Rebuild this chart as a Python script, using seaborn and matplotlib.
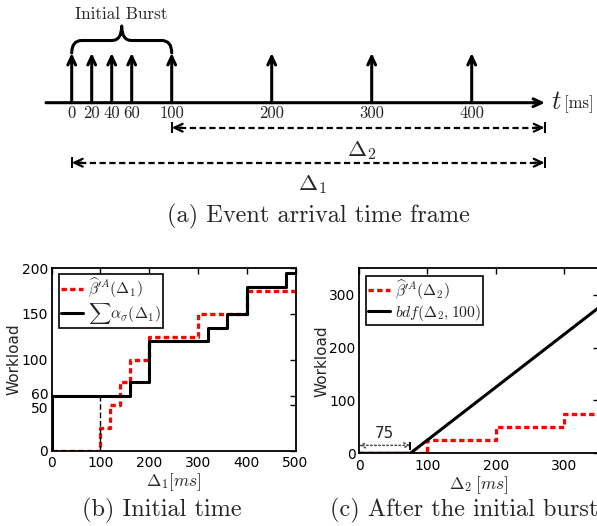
import matplotlib
matplotlib.use("Agg")
import matplotlib.pyplot as plt
import matplotlib.transforms as mtransforms
from matplotlib.path import Path
from matplotlib.patches import PathPatch
import seaborn as sns

# ---------------- data ----------------
event_times = [0, 20, 40, 60, 100, 200, 300, 400]
event_labels = ["0", "20", "40", "60", "100", "200", "300", "400"]
burst_start, burst_end = 0, 100
delta2_start = 100
delta1_start = 0
horizon_end = 473          # ms, end of the Δ ranges

beta1_x = [0, 100, 120, 140, 160, 200, 300, 400, 500]
beta1_y = [0, 25, 50, 75, 100, 125, 150, 175, 175]
alpha_x = [0, 0, 160, 200, 320, 360, 400, 480, 500]
alpha_y = [0, 60, 75, 120, 135, 150, 180, 195, 195]
b_xticks = [0, 100, 200, 300, 400, 500]
b_yticks = [0, 50, 60, 100, 150, 200]

beta2_x = [0, 100, 200, 300, 400, 500]
beta2_y = [0, 25, 50, 75, 100, 100]
bdf_x = [0, 75, 500]
bdf_y = [0, 0, 425]
c_xticks = [0, 100, 200, 300, 400, 500]
c_yticks = [0, 100, 200, 300]
offset_75 = 75

# ---------------- style ----------------
sns.set_style("white")
plt.rcParams["font.family"] = ["DejaVu Sans"]
plt.rcParams["mathtext.fontset"] = "cm"

W, H = 597, 526
fig = plt.figure(figsize=(W / 100, H / 100), dpi=100)

def fx(px):
    return px / W

def fy(py):
    return 1 - py / H

T0_PX = 71.7  # pixel position of t = 0

def ms_at(px):
    return px - T0_PX

# ---------------- (a) timeline ----------------
axt = fig.add_axes([0, 0, 1, 1])
axt.set_xlim(ms_at(0), ms_at(W))
axt.set_ylim(H, 0)
axt.axis("off")
axt.patch.set_visible(False)

Y_AX = 102.7
arrow_kw = dict(arrowstyle="->,head_length=0.6,head_width=0.28", lw=2.2,
                color="k", shrinkA=0, shrinkB=0)
axt.annotate("", xy=(ms_at(545), Y_AX), xytext=(ms_at(46), Y_AX), arrowprops=arrow_kw)
for t, lab in zip(event_times, event_labels):
    axt.annotate("", xy=(t, 53), xytext=(t, Y_AX), arrowprops=arrow_kw)
    axt.text(t, 113.5, lab, ha="center", va="center", fontsize=12, fontfamily="cmr10")

axt.text(ms_at(551), Y_AX - 1, "$t$", fontsize=19, ha="left", va="center")
axt.text(ms_at(564), Y_AX + 1, "[ms]", fontsize=12, ha="left", va="center",
         fontfamily="cmr10")

# brace over the initial burst
def draw_brace(ax, x0, x1, yb, ym, yt, r=10):
    xm = (x0 + x1) / 2
    verts = [(x0, yb), (x0, ym), (x0 + r, ym), (xm - r, ym), (xm, ym), (xm, yt),
             (xm, ym), (xm + r, ym), (x1 - r, ym), (x1, ym), (x1, yb)]
    codes = [Path.MOVETO, Path.CURVE3, Path.CURVE3, Path.LINETO, Path.CURVE3,
             Path.CURVE3, Path.CURVE3, Path.CURVE3, Path.LINETO, Path.CURVE3,
             Path.CURVE3]
    ax.add_patch(PathPatch(Path(verts, codes), fill=False, lw=2.2, color="k",
                           capstyle="round", joinstyle="round"))

draw_brace(axt, burst_start, burst_end, 53, 40.5, 26)
axt.text((burst_start + burst_end) / 2, 14, "Initial Burst", ha="center",
         va="center", fontsize=12.3, fontfamily="cmr10")

def range_arrow(ax, x0, x1, y):
    ax.hlines(y, x0 + 8, x1 - 8, colors="k", lw=1.6, linestyles=(0, (2.8, 1.6)))
    head = dict(arrowstyle="->,head_length=0.6,head_width=0.28", lw=1.6,
                color="k", shrinkA=0, shrinkB=0)
    ax.annotate("", xy=(x0, y), xytext=(x0 + 10, y), arrowprops=head)
    ax.annotate("", xy=(x1, y), xytext=(x1 - 10, y), arrowprops=head)
    ax.vlines([x0, x1], y - 5.5, y + 5.5, colors="k", lw=1.4)

range_arrow(axt, delta2_start, horizon_end, 127.7)
range_arrow(axt, delta1_start, horizon_end, 162.7)
axt.text(ms_at(362), 150, r"$\Delta_2$", fontsize=16.5, ha="center", va="center")
axt.text(ms_at(312), 185, r"$\Delta_1$", fontsize=16.5, ha="center", va="center")

fig.text(fx(318), fy(216.5), "(a) Event arrival time frame", ha="center",
         va="center", fontsize=17.5, fontfamily="cmr10")

# ---------------- common axis styling ----------------
def style_axes(ax):
    ax.tick_params(direction="in", length=4, width=1, top=True, right=True,
                   labelsize=10, colors="k")
    ax.tick_params(axis="x", pad=4)
    ax.tick_params(axis="y", pad=2.5)
    for s in ax.spines.values():
        s.set_visible(True)
        s.set_linewidth(1.3)
        s.set_color("k")

def legend(ax, anchor):
    leg = ax.legend(loc="upper left", bbox_to_anchor=anchor, borderaxespad=0,
                    fontsize=11.3, handlelength=1.4, handletextpad=0.3,
                    borderpad=0.15, labelspacing=0.05, fancybox=False,
                    framealpha=1, edgecolor="k")
    leg.get_frame().set_linewidth(1.2)

red_dash = (0, (1.6, 1.0))

# ---------------- (b) initial time ----------------
axb = fig.add_axes([fx(51.7), fy(450.7), (295.5 - 51.7) / W, (450.7 - 268.3) / H])
sns.lineplot(x=beta1_x, y=beta1_y, ax=axb, estimator=None, sort=False,
             drawstyle="steps-post", color="red", lw=2.4, linestyle=red_dash,
             label=r"$\widehat{\beta}^{\prime A}(\Delta_1)$")
sns.lineplot(x=alpha_x, y=alpha_y, ax=axb, estimator=None, sort=False,
             drawstyle="steps-post", color="black", lw=2.2,
             label=r"$\sum\alpha_\sigma(\Delta_1)$")
axb.vlines(beta1_x[1], 0, alpha_y[1], colors="k", lw=1, linestyles=(0, (4, 2)))
axb.set_xticks(b_xticks)
axb.set_yticks(b_yticks)
axb.set_xlim(0, 500)
axb.set_ylim(0, 200)
style_axes(axb)
# nudge the close 50 / 60 labels apart a little
for lab in axb.get_yticklabels():
    if lab.get_text() == "60":
        lab.set_transform(lab.get_transform() +
                          mtransforms.ScaledTranslation(0, 2 / 72, fig.dpi_scale_trans))
    elif lab.get_text() == "50":
        lab.set_transform(lab.get_transform() +
                          mtransforms.ScaledTranslation(0, -2 / 72, fig.dpi_scale_trans))
axb.set_xlabel(r"$\Delta_1[ms]$", fontsize=12.5, labelpad=1)
axb.set_ylabel("Workload", fontsize=11, labelpad=0)
legend(axb, (0.03, 0.967))

fig.text(fx(161.7), fy(510), "(b) Initial time", ha="center", va="center",
         fontsize=17.5, fontfamily="cmr10")

# ---------------- (c) after the initial burst ----------------
axc = fig.add_axes([fx(359), fy(453.3), (599 - 359) / W, (453.3 - 268.3) / H])
sns.lineplot(x=beta2_x, y=beta2_y, ax=axc, estimator=None, sort=False,
             drawstyle="steps-post", color="red", lw=2.4, linestyle=red_dash,
             label=r"$\widehat{\beta}^{\prime A}(\Delta_2)$")
sns.lineplot(x=bdf_x, y=bdf_y, ax=axc, estimator=None, sort=False,
             color="black", lw=2.2, label=r"$bdf(\Delta_2, 100)$")
axc.set_xticks(c_xticks)
axc.set_yticks(c_yticks)
axc.set_xlim(0, 351)
axc.set_ylim(0, 350)
style_axes(axc)
axc.set_xlabel(r"$\Delta_2\;[ms]$", fontsize=12.5, labelpad=1)
axc.set_ylabel("Workload", fontsize=11, labelpad=0)
axc.annotate("", xy=(0, 15), xytext=(offset_75, 15),
             arrowprops=dict(arrowstyle="<->,head_length=0.35,head_width=0.18",
                             ls=":", lw=1.1, color="0.3", shrinkA=0, shrinkB=0))
axc.vlines(offset_75, 7, 22, colors="k", lw=1.4)
axc.text(offset_75 / 2, 37, str(offset_75), ha="center", va="center", fontsize=11)
legend(axc, (0.028, 0.96))

fig.text(fx(330.3), fy(510), "(c) After the initial burst", ha="left",
         va="center", fontsize=17.5, fontfamily="cmr10")

fig.savefig("out.png", dpi=100)
